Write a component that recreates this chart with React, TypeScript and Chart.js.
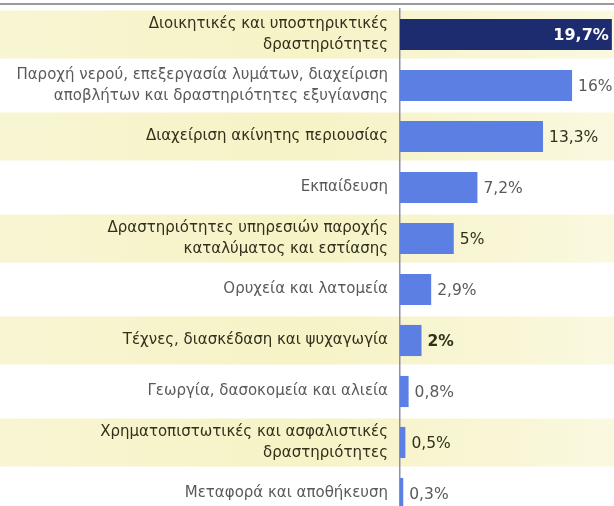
import React, { useEffect, useRef } from "react";
import { Chart, registerables } from "chart.js";

Chart.register(...registerables);

const categories: (string | string[])[] = [
  ["Διοικητικές και υποστηρικτικές", "δραστηριότητες"],
  ["Παροχή νερού, επεξεργασία λυμάτων, διαχείριση", "αποβλήτων και δραστηριότητες εξυγίανσης"],
  "Διαχείριση ακίνητης περιουσίας",
  "Εκπαίδευση",
  ["Δραστηριότητες υπηρεσιών παροχής", "καταλύματος και εστίασης"],
  "Ορυχεία και λατομεία",
  "Τέχνες, διασκέδαση και ψυχαγωγία",
  "Γεωργία, δασοκομεία και αλιεία",
  ["Χρηματοπιστωτικές και ασφαλιστικές", "δραστηριότητες"],
  "Μεταφορά και αποθήκευση",
];

const values: number[] = [19.7, 16, 13.3, 7.2, 5, 2.9, 2, 0.8, 0.5, 0.3];

const valueLabels: string[] = [
  "19,7%", "16%", "13,3%", "7,2%", "5%", "2,9%", "2%", "0,8%", "0,5%", "0,3%",
];

const highlighted: boolean[] = [true, false, true, false, true, false, true, false, true, false];

const FONT = "'DejaVu Sans', 'Noto Sans', sans-serif";
const DARK = "#30301c";
const GRAY = "#5a5a5a";
const BAR = "#5b7fe3";
const BAR_TOP = "#1d2c6f";

export default function App() {
  const canvasRef = useRef<HTMLCanvasElement | null>(null);

  useEffect(() => {
    document.body.style.margin = "0";
    document.body.style.overflow = "hidden";
    const canvas = canvasRef.current;
    if (!canvas) return;

    const bandsPlugin = {
      id: "bands",
      beforeDraw(chart: any) {
        const { ctx, chartArea } = chart;
        const y = chart.scales.y;
        ctx.save();
        ctx.strokeStyle = "#9a9a9a";
        ctx.lineWidth = 2;
        ctx.beginPath();
        ctx.moveTo(0, chartArea.top - 5);
        ctx.lineTo(chart.width, chartArea.top - 5);
        ctx.stroke();
        categories.forEach((_, i) => {
          if (!highlighted[i]) return;
          const cy = y.getPixelForValue(i);
          const g = ctx.createLinearGradient(0, 0, chart.width, 0);
          g.addColorStop(0, "#f8f5d3");
          g.addColorStop(0.5, "#f6f3c6");
          g.addColorStop(1, "#faf8df");
          ctx.fillStyle = g;
          ctx.fillRect(0, cy - 24, chart.width, 48);
        });
        ctx.restore();
      },
    };

    const valuesPlugin = {
      id: "values",
      afterDatasetsDraw(chart: any) {
        const { ctx } = chart;
        const meta = chart.getDatasetMeta(0);
        ctx.save();
        ctx.textBaseline = "middle";
        meta.data.forEach((bar: any, i: number) => {
          if (i === 0) {
            ctx.font = `bold 16px ${FONT}`;
            ctx.fillStyle = "#ffffff";
            ctx.textAlign = "right";
            ctx.fillText(valueLabels[i], bar.x - 3, bar.y + 1);
          } else {
            ctx.font = `${i === 6 ? "bold " : ""}15.5px ${FONT}`;
            ctx.fillStyle = highlighted[i] ? DARK : GRAY;
            ctx.textAlign = "left";
            ctx.fillText(valueLabels[i], bar.x + 6, bar.y + 1);
          }
        });
        ctx.restore();
      },
    };

    const chart = new Chart(canvas, {
      type: "bar",
      data: {
        labels: categories,
        datasets: [
          {
            data: values,
            backgroundColor: values.map((_, i) => (i === 0 ? BAR_TOP : BAR)),
            borderWidth: 0,
            categoryPercentage: 1,
            barPercentage: 0.61,
          },
        ],
      },
      options: {
        indexAxis: "y",
        animation: false,
        responsive: true,
        maintainAspectRatio: false,
        layout: { padding: { top: 9, bottom: 5, left: 0, right: 0 } },
        plugins: {
          legend: { display: false },
          tooltip: { enabled: false },
          title: { display: false },
        },
        scales: {
          x: {
            display: false,
            min: 0,
            max: 19.9,
          },
          y: {
            grid: { display: false, drawTicks: false },
            border: { display: true, color: "#8a90a8", width: 1.5 },
            afterFit(scale: any) {
              scale.width = 400;
              scale.paddingTop = 0;
              scale.paddingBottom = 0;
            },
            ticks: {
              padding: 12,
              color: (ctx: any) => (highlighted[ctx.index] ? DARK : GRAY),
              font: {
                family: FONT,
                size: 15,
                lineHeight: 1.45,
              },
            },
          },
        },
      },
      plugins: [bandsPlugin, valuesPlugin],
    });

    return () => chart.destroy();
  }, []);

  return (
    <div style={{ position: "fixed", top: 0, left: 0, width: 614, height: 524, background: "#ffffff" }}>
      <canvas ref={canvasRef} />
    </div>
  );
}
